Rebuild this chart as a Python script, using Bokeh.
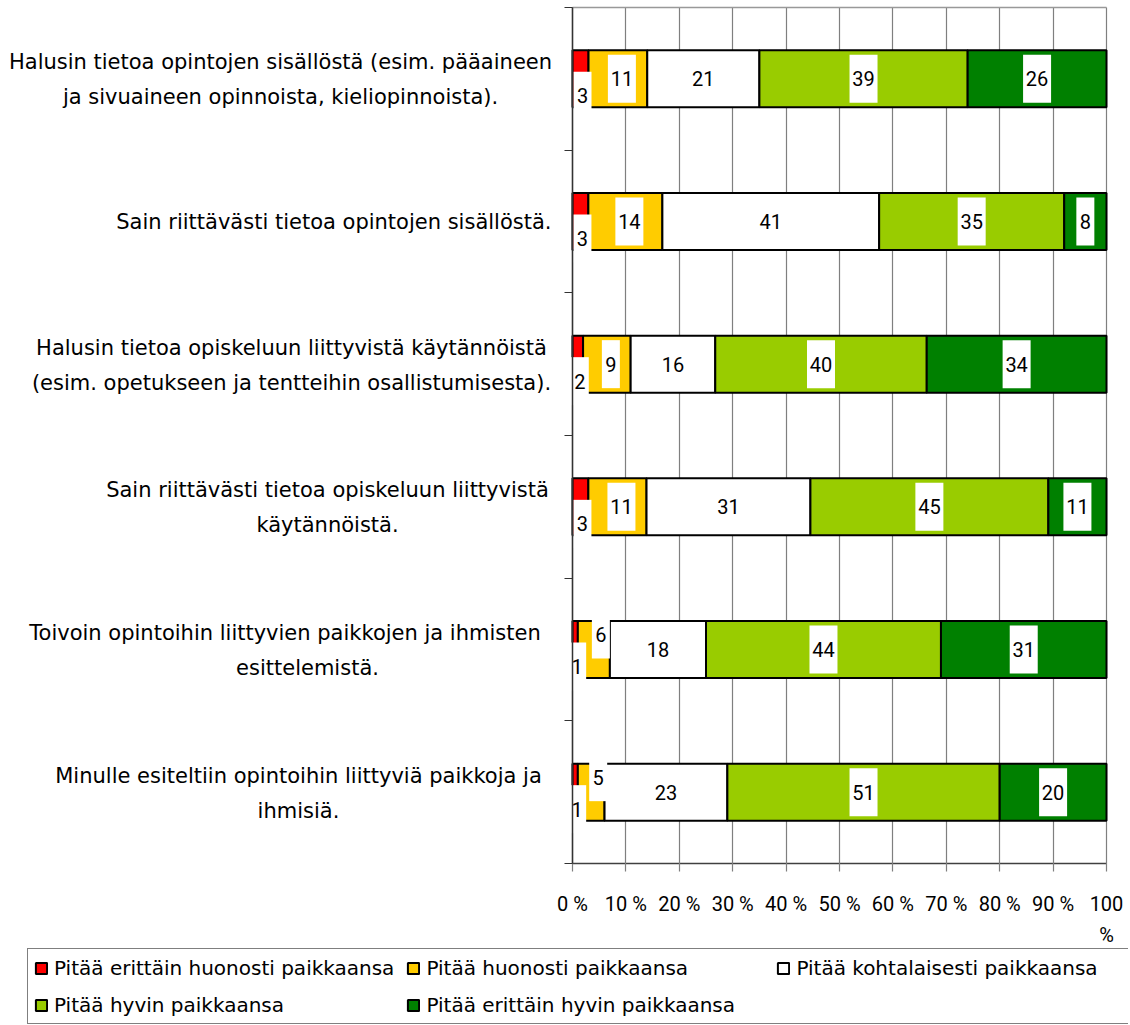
from bokeh.plotting import figure
from bokeh.models import Range1d, FixedTicker, Legend, LegendItem, ColumnDataSource, LinearAxis
from bokeh.embed import file_html
from bokeh.resources import INLINE
from bokeh.core.properties import value

# ---------------- data ----------------
category_lines = [
    ["Halusin tietoa opintojen sisällöstä (esim. pääaineen",
     "ja sivuaineen opinnoista, kieliopinnoista)."],
    ["Sain riittävästi tietoa opintojen sisällöstä."],
    ["Halusin tietoa opiskeluun liittyvistä käytännöistä",
     "(esim. opetukseen ja tentteihin osallistumisesta)."],
    ["Sain riittävästi tietoa opiskeluun liittyvistä",
     "käytännöistä."],
    ["Toivoin opintoihin liittyvien paikkojen ja ihmisten",
     "esittelemistä."],
    ["Minulle esiteltiin opintoihin liittyviä paikkoja ja",
     "ihmisiä."],
]

series_names = [
    "Pitää erittäin huonosti paikkaansa",
    "Pitää huonosti paikkaansa",
    "Pitää kohtalaisesti paikkaansa",
    "Pitää hyvin paikkaansa",
    "Pitää erittäin hyvin paikkaansa",
]
series_colors = ["#FF0000", "#FFCC00", "#FFFFFF", "#99CC00", "#008000"]

erittain_huonosti = [3, 3, 2, 3, 1, 1]
huonosti = [11, 14, 9, 11, 6, 5]
kohtalaisesti = [21, 41, 16, 31, 18, 23]
hyvin = [39, 35, 40, 45, 44, 51]
erittain_hyvin = [26, 8, 34, 11, 31, 20]

tick_values = [0, 10, 20, 30, 40, 50, 60, 70, 80, 90, 100]
tick_labels = ["0 %", "10 %", "20 %", "30 %", "40 %", "50 %", "60 %", "70 %", "80 %", "90 %", "100\n%"]

# ---------------- geometry (pixels) ----------------
W, H = 1128, 1024
PLOT_L, PLOT_R = 572, 1106          # 0 % and 100 %
PLOT_T, PLOT_B = 7, 863             # top and bottom of the bar area
N = len(category_lines)
PX_X = (PLOT_R - PLOT_L) / 100.0
PX_Y = (PLOT_B - PLOT_T) / float(N)

NUM_FONT = "Roboto"
CAT_FONT = "DejaVu Sans"
AXIS_GREY = "#404040"
GRID_GREY = "#7f7f7f"

x_rng = Range1d(-PLOT_L / PX_X, 100 + (W - PLOT_R) / PX_X)
y_rng = Range1d(-(H - PLOT_B) / PX_Y, N + PLOT_T / PX_Y)

p = figure(width=W, height=H, x_range=x_rng, y_range=y_rng,
           output_backend="svg", toolbar_location=None, min_border=0)
p.background_fill_color = "white"
p.border_fill_color = "white"
p.outline_line_color = None
p.xgrid.grid_line_color = None
p.ygrid.grid_line_color = None

# x axis at y = 0; its long inner ticks act as the vertical grid lines
p.xaxis.fixed_location = 0
p.xaxis.bounds = (0, 100)
p.xaxis.level = "underlay"
p.xaxis.ticker = FixedTicker(ticks=tick_values)
p.xaxis.major_label_overrides = {v: t for v, t in zip(tick_values, tick_labels)}
p.xaxis.minor_tick_line_color = None
p.xaxis.major_tick_out = 8
p.xaxis.major_tick_in = PLOT_B - PLOT_T
p.xaxis.axis_line_color = AXIS_GREY
p.xaxis.axis_line_width = 1.5
p.xaxis.major_tick_line_color = GRID_GREY
p.xaxis.major_tick_line_width = 1.2
p.xaxis.major_label_text_font = NUM_FONT
p.xaxis.major_label_text_font_size = "20px"
p.xaxis.major_label_text_color = "black"
p.xaxis.major_label_text_line_height = 1.3
p.xaxis.major_label_standoff = 20

# top border of the plot area: a bare axis at the top edge
top_axis = LinearAxis(fixed_location=N, bounds=(0, 100), ticker=FixedTicker(ticks=[]),
                      axis_line_color="#999999", axis_line_width=1.5,
                      major_tick_line_color=None, minor_tick_line_color=None,
                      major_label_text_font_size="0px")
p.add_layout(top_axis, "above")

# y axis drawn at x = 0 with boundary tick marks
p.yaxis.fixed_location = 0
p.yaxis.bounds = (0, N)
p.yaxis.ticker = FixedTicker(ticks=list(range(N + 1)))
p.yaxis.major_label_overrides = {i: "" for i in range(N + 1)}
p.yaxis.minor_tick_line_color = None
p.yaxis.major_tick_out = 8
p.yaxis.major_tick_in = 0
p.yaxis.major_tick_line_color = "#333333"
p.yaxis.axis_line_color = "#333333"
p.yaxis.axis_line_width = 1.5

# ---------------- bars ----------------
ys = [N - 0.5 - i for i in range(N)]
series = [erittain_huonosti, huonosti, kohtalaisesti, hyvin, erittain_hyvin]
totals = [sum(c) for c in zip(*series)]

left = [0.0] * N
lab_x, lab_y, lab_t, box_w = [], [], [], []
renderers = []
for k, (vals, color) in enumerate(zip(series, series_colors)):
    pct = [v / t * 100.0 for v, t in zip(vals, totals)]
    right = [l + q for l, q in zip(left, pct)]
    src = ColumnDataSource(dict(y=ys, left=left, right=right))
    r = p.hbar(y="y", left="left", right="right", height=0.4, source=src,
               fill_color=color, line_color="black", line_width=2)
    renderers.append(r)
    for i in range(N):
        cx = (left[i] + right[i]) / 2.0
        cy = ys[i]
        if k == 0:
            cx += 2 / PX_X
            cy -= 17 / PX_Y
        elif k == 1 and vals[i] < 8:
            cx += 7 / PX_X
            cy += 15 / PX_Y
        elif k == 1:
            cx += 4 / PX_X
        lab_x.append(cx)
        lab_y.append(cy)
        lab_t.append(str(vals[i]))
        box_w.append(18 if vals[i] < 10 else 28)
    left = right

lsrc = ColumnDataSource(dict(x=lab_x, y=lab_y, t=lab_t, w=box_w))
p.rect(x="x", y="y", width="w", height=48, width_units="screen", height_units="screen",
       source=lsrc, fill_color="white", line_color=None)
p.text(x="x", y="y", text="t", source=lsrc, text_align="center", text_baseline="middle",
       text_font=value(NUM_FONT), text_font_size="20px", text_color="black")

# ---------------- category labels ----------------
# page-x centre of each text block (None = single line, right aligned next to the axis)
centers = [280, None, 291, 327, (284.5, 307), 298]
cx_l, cy_l, ct_l, ca_l = [], [], [], []
for i, lines in enumerate(category_lines):
    c = centers[i]
    if c is None:
        cx_l.append((551 - PLOT_L) / PX_X)
        cy_l.append(ys[i])
        ct_l.append(lines[0])
        ca_l.append("right")
        continue
    cs = c if isinstance(c, tuple) else (c, c)
    offs = [17.5, -17.5] if len(lines) == 2 else [0.0]
    for j, line in enumerate(lines):
        cx_l.append((cs[j] - PLOT_L) / PX_X)
        cy_l.append(ys[i] + (offs[j] - 1) / PX_Y)
        ct_l.append(line)
        ca_l.append("center")

csrc = ColumnDataSource(dict(x=cx_l, y=cy_l, t=ct_l, a=ca_l))
p.text(x="x", y="y", text="t", source=csrc, text_align="a", text_baseline="middle",
       text_font=value(CAT_FONT), text_font_size="21px", text_color="black")

# ---------------- legend ----------------
items = [LegendItem(label=n, renderers=[r]) for n, r in zip(series_names, renderers)]
legend = Legend(items=items, orientation="horizontal", ncols=3,
                location=(27, 0),
                padding=6, spacing=12, margin=0, label_width=338, label_height=25,
                glyph_width=14, glyph_height=14, label_standoff=6,
                border_line_color="black", border_line_width=1,
                background_fill_color="white", background_fill_alpha=1,
                label_text_font=CAT_FONT, label_text_font_size="20px",
                label_text_color="black")
p.add_layout(legend)

open("out.html", "w").write(file_html(p, INLINE))
